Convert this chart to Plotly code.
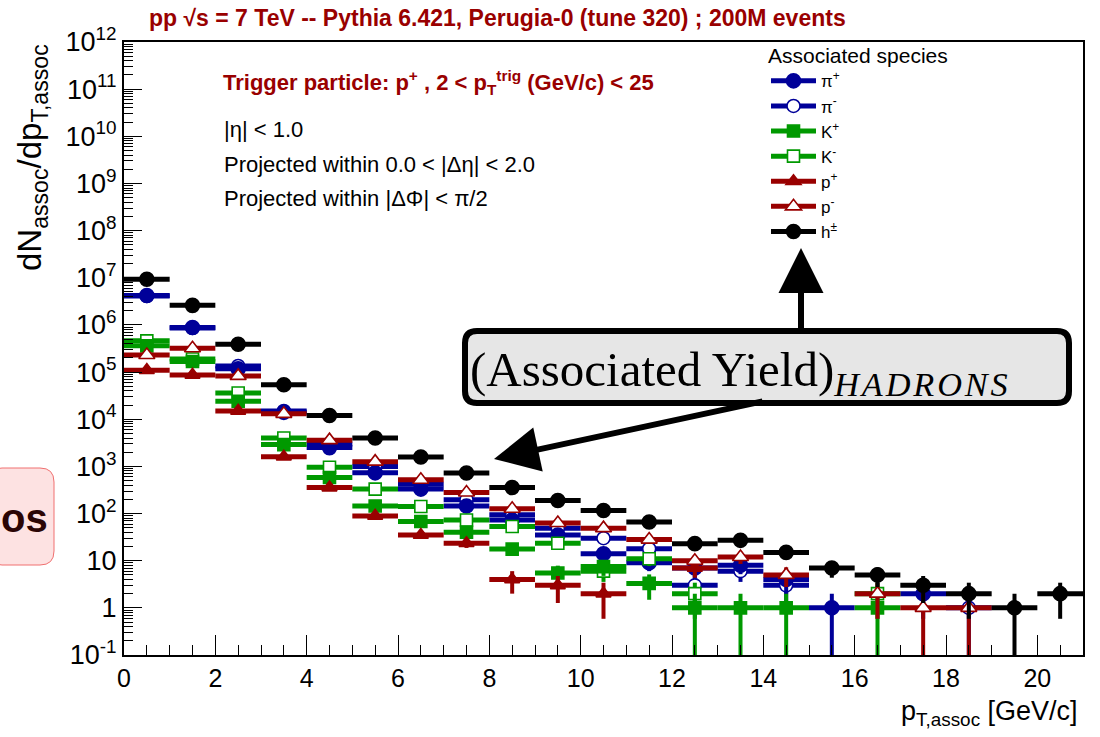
import numpy as np
import plotly.graph_objects as go

# ---------------- data ----------------
pt_bins = [0.5, 1.5, 2.5, 3.5, 4.5, 5.5, 6.5, 7.5, 8.5, 9.5, 10.5,
           11.5, 12.5, 13.5, 14.5, 15.5, 16.5, 17.5, 18.5, 19.5, 20.5]
bin_half_width = 0.5

pi_plus = [4.2e6, 8.8e5, 1.17e5, 1.4e4, 2.5e3, 730, 330, 145, 73, 35, 14,
           9, 7, 8, 4, 1, None, 2, None, None, None]
pi_minus = [4.1e6, 8.6e5, 1.35e5, 1.5e4, 3.0e3, 1.0e3, 420, 195, 94, 49, 30,
            18, 3, 6, 3, None, None, None, 1, None, None]
k_plus = [3.6e5, 1.67e5, 2.4e4, 2.9e3, 580, 145, 68, 40, 17.6, 5.5, 7.5,
          3.3, 1, 1, 1, None, 1, None, None, None, None]
k_minus = [4.6e5, 1.9e5, 3.6e4, 4.0e3, 960, 330, 141, 73, 53, 23.5, 6,
           11, 2, None, None, None, 2, None, None, None, None]
p_plus = [1.1e5, 8.7e4, 1.5e4, 1.6e3, 355, 89, 35, 23.5, 4, 3, 2,
          None, 7, None, None, None, None, None, None, None, None]
p_minus = [2.3e5, 3.2e5, 8.3e4, 1.3e4, 3.6e3, 1.26e3, 520, 280, 126, 63, 49,
           28, 10, 12, 5, None, 2, 1, 1, None, None]
h_all = [9.3e6, 2.6e6, 3.9e5, 5.4e4, 1.2e4, 4.0e3, 1.58e3, 725, 356, 189, 116,
         66, 23, 27, 15, 7, 5, 3, 2, 1, 2]

species_names = ["π<sup>+</sup>", "π<sup>-</sup>", "K<sup>+</sup>", "K<sup>-</sup>",
                 "p<sup>+</sup>", "p<sup>-</sup>", "h<sup>±</sup>"]
y_tick_vals = [1e-1, 1, 10, 1e2, 1e3, 1e4, 1e5, 1e6, 1e7, 1e8, 1e9, 1e10, 1e11, 1e12]
y_tick_text = ["10<sup>-1</sup>", "1", "10", "10<sup>2</sup>", "10<sup>3</sup>",
               "10<sup>4</sup>", "10<sup>5</sup>", "10<sup>6</sup>", "10<sup>7</sup>",
               "10<sup>8</sup>", "10<sup>9</sup>", "10<sup>10</sup>", "10<sup>11</sup>",
               "10<sup>12</sup>"]

# ---------------- styling ----------------
BLUE = "#000099"
GREEN = "#009900"
RED = "#990000"
BLACK = "#000000"
FONT = "Liberation Sans, Arial, sans-serif"
SERIF = "Liberation Serif, DejaVu Serif, serif"

W, H = 1100, 737
L, R, T, B = 124, 1083, 42, 655


def px(x):
    return (x - L) / (R - L)


def py(y):
    return (B - y) / (B - T)


def rounded_rect(x0, y0, x1, y1, r):
    rx = r / (R - L)
    ry = r / (B - T)
    a, b, c, d = px(x0), py(y0), px(x1), py(y1)
    return (f"M {a+rx} {b} L {c-rx} {b} Q {c} {b} {c} {b-ry} "
            f"L {c} {d+ry} Q {c} {d} {c-rx} {d} L {a+rx} {d} "
            f"Q {a} {d} {a} {d+ry} L {a} {b-ry} Q {a} {b} {a+rx} {b} Z")


fig = go.Figure()

series = {
    "pi_plus": (pi_plus, BLUE, "circle", BLUE, 14, 0),
    "pi_minus": (pi_minus, BLUE, "circle", "white", 13, 1),
    "k_plus": (k_plus, GREEN, "square", GREEN, 12, 2),
    "k_minus": (k_minus, GREEN, "square", "white", 12, 3),
    "p_plus": (p_plus, RED, "triangle-up", RED, 13, 4),
    "p_minus": (p_minus, RED, "triangle-up", "white", 14, 5),
    "h_all": (h_all, BLACK, "circle", BLACK, 14, 6),
}
draw_order = ["pi_minus", "pi_plus", "k_minus", "k_plus", "p_plus", "p_minus", "h_all"]

for key in draw_order:
    vals, col, sym, fill, size, _ = series[key]
    xs, ys, eup, edn = [], [], [], []
    for x, v in zip(pt_bins, vals):
        if v is None:
            continue
        e = float(np.sqrt(v))
        xs.append(x)
        ys.append(v)
        eup.append(e)
        edn.append(min(e, 0.9999 * v))
    fig.add_trace(go.Scatter(
        x=xs, y=ys, mode="markers", showlegend=False,
        marker=dict(symbol=sym, size=size, color=fill,
                    line=dict(color=col, width=1.6)),
        error_x=dict(type="constant", value=bin_half_width, color=col,
                     thickness=5, width=0),
        error_y=dict(type="data", array=eup, arrayminus=edn, symmetric=False,
                     color=col, thickness=4, width=0),
    ))

legend_order = ["pi_plus", "pi_minus", "k_plus", "k_minus", "p_plus", "p_minus", "h_all"]
for key in legend_order:
    vals, col, sym, fill, size, idx = series[key]
    fig.add_trace(go.Scatter(
        x=[None], y=[None], mode="lines+markers", name=species_names[idx],
        line=dict(color=col, width=5),
        marker=dict(symbol=sym, size=size, color=fill,
                    line=dict(color=col, width=1.6)),
    ))

fig.update_layout(
    width=W, height=H,
    margin=dict(l=L, r=W - R, t=T, b=H - B),
    paper_bgcolor="white", plot_bgcolor="white",
    font=dict(family=FONT, color="black"),
    legend=dict(
        title=dict(text="Associated species", font=dict(size=21, family=FONT)),
        font=dict(size=17, family=FONT),
        x=px(766), y=py(36), xanchor="left", yanchor="top",
        bgcolor="rgba(0,0,0,0)", tracegroupgap=0, itemwidth=45,
    ),
    xaxis=dict(
        range=[0, 21], dtick=2, tick0=0, ticks="inside", ticklen=20,
        tickwidth=1, tickcolor="black",
        showline=True, linecolor="black", linewidth=2, mirror=True,
        showgrid=False, zeroline=False,
        tickfont=dict(size=25, family=FONT),
        minor=dict(dtick=0.5, ticks="inside", ticklen=10, tickcolor="black",
                   showgrid=False),
    ),
    yaxis=dict(
        type="log", range=[-1, 12], tickvals=y_tick_vals, ticktext=y_tick_text,
        ticks="inside", ticklen=18, tickwidth=1, tickcolor="black",
        showline=True, linecolor="black", linewidth=2, mirror=True,
        showgrid=False, zeroline=False,
        tickfont=dict(size=27, family=FONT),
        minor=dict(dtick="D1", ticks="inside", ticklen=9, tickcolor="black",
                   showgrid=False),
    ),
)

thin = "\u200a"
hadrons = thin.join("HADRONS")

annotations = [
    dict(text="<b>pp √s = 7 TeV -- Pythia 6.421, Perugia-0 (tune 320) ; 200M events</b>",
         x=px(147), y=py(18), xanchor="left", yanchor="middle",
         font=dict(size=23, color=RED, family=FONT)),
    dict(text="<b>Trigger particle: p<sup>+</sup> , 2 < p<sub>T</sub><sup>trig</sup> (GeV/c) < 25</b>",
         x=px(221), y=py(82), xanchor="left", yanchor="middle",
         font=dict(size=22, color=RED, family=FONT)),
    dict(text="|η| < 1.0", x=px(222), y=py(130), xanchor="left", yanchor="middle",
         font=dict(size=22, family=FONT)),
    dict(text="Projected within 0.0 < |Δη| < 2.0", x=px(222), y=py(164),
         xanchor="left", yanchor="middle", font=dict(size=22, family=FONT)),
    dict(text="Projected within |ΔΦ| < π/2", x=px(222), y=py(198),
         xanchor="left", yanchor="middle", font=dict(size=22, family=FONT)),
    dict(text="dN<sub>assoc</sub>/dp<sub>T,assoc</sub>", textangle=-90,
         x=px(32), y=py(158), xanchor="center", yanchor="middle",
         font=dict(size=33, family=FONT)),
    dict(text="p<sub>T,assoc</sub> [GeV/c]", x=px(1080), y=py(713),
         xanchor="right", yanchor="middle", font=dict(size=27, family=FONT)),
    dict(text=f"(Associated Yield)<sub><i>{hadrons}</i></sub>", x=px(468), y=py(372),
         xanchor="left", yanchor="middle",
         font=dict(size=49, family=SERIF)),
    dict(text="<b>os</b>", x=px(50), y=py(518), xanchor="right", yanchor="middle",
         font=dict(size=40, color="#2b0505", family=FONT)),
    # arrows
    dict(text="", x=px(801), y=py(248), ax=0, ay=84, showarrow=True,
         arrowhead=2, arrowsize=1.5, arrowwidth=6, arrowcolor="black"),
    dict(text="", x=px(494), y=py(459), ax=270, ay=-58, showarrow=True,
         arrowhead=2, arrowsize=1.5, arrowwidth=6, arrowcolor="black"),
]
for a in annotations:
    a.setdefault("xref", "paper")
    a.setdefault("yref", "paper")
    a.setdefault("showarrow", False)
fig.update_layout(annotations=annotations)

fig.update_layout(shapes=[
    dict(type="path", xref="paper", yref="paper",
         path=rounded_rect(465, 331, 1069, 403, 12),
         fillcolor="#e6e6e6", line=dict(color="black", width=6), layer="above"),
    dict(type="path", xref="paper", yref="paper",
         path=rounded_rect(-12, 468, 54, 565, 14),
         fillcolor="#fde2e2", line=dict(color="#f07070", width=1), layer="above"),
])

fig.write_html("out.html")
